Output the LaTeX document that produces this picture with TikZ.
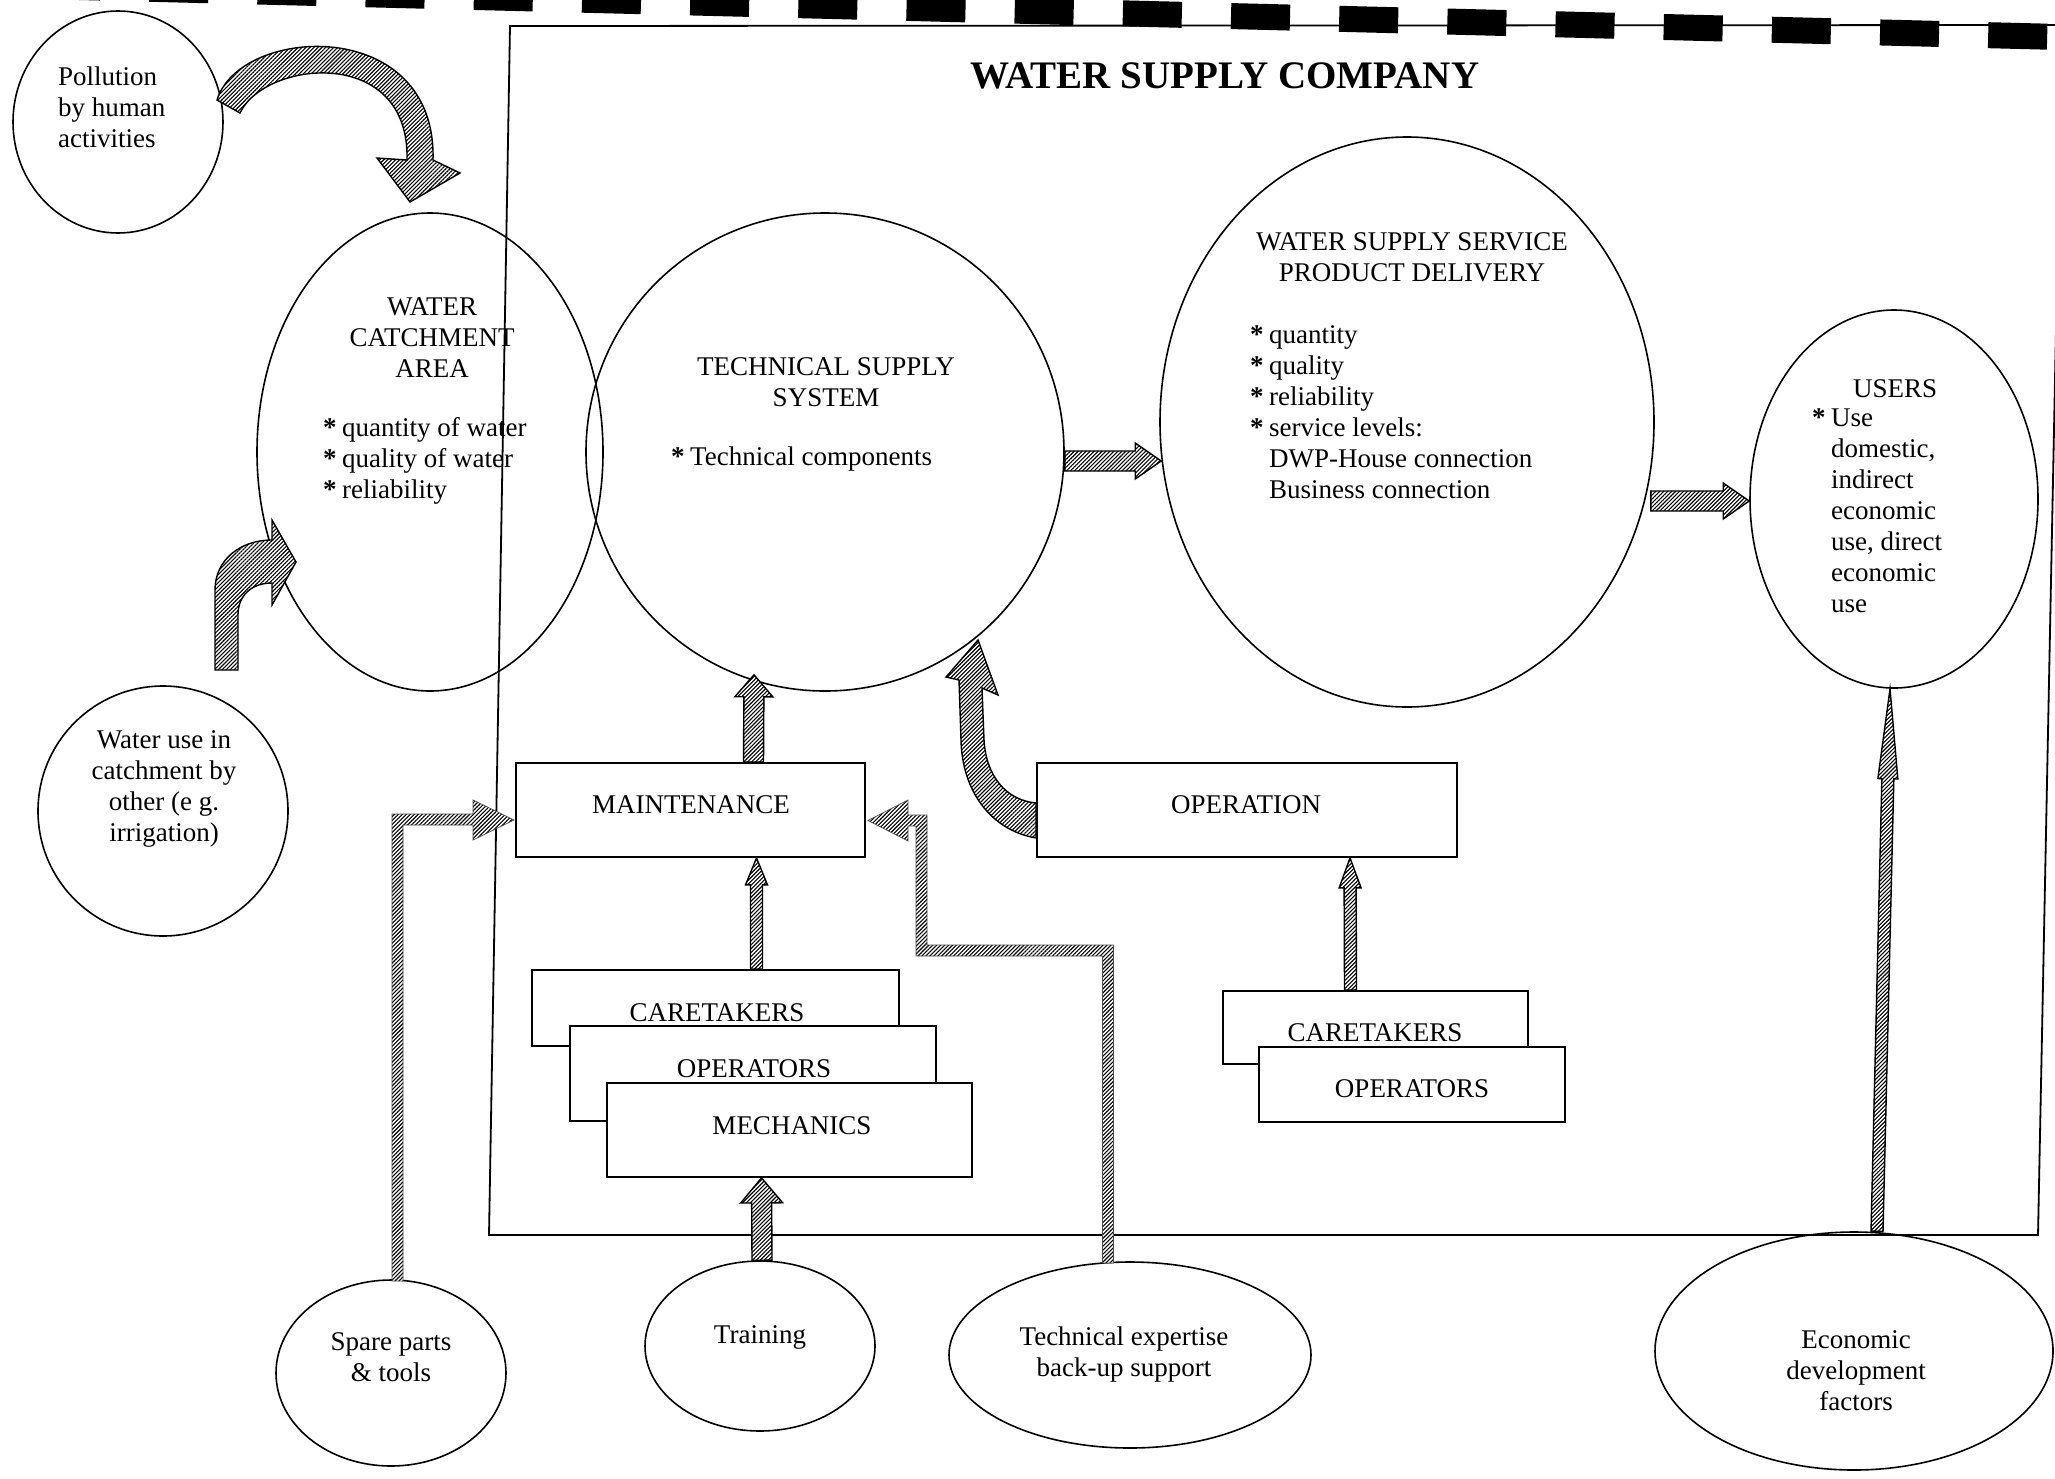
\documentclass[tikz,border=0pt]{standalone}
\usepackage{fontspec}
\setmainfont{Liberation Serif}
\usetikzlibrary{calc,shapes.geometric,patterns.meta}

% bullet and matching indent for the lists
\newcommand{\bul}{\makebox[19pt][l]{\textbf{*}}}
\newcommand{\ind}{\hspace*{19pt}}

% straight block arrow: [style]{from}{to}{shaft half width}{head half width}{head length}
\newcommand{\blockarrow}[6][]{%
  \coordinate (bah) at ($(#3)!#6!(#2)$);
  \draw[arrowbody,#1] ($(#2)!#4!90:(#3)$) -- ($(bah)!#4!90:(#3)$)
     -- ($(bah)!#5!90:(#3)$) -- (#3) -- ($(bah)!#5!-90:(#3)$)
     -- ($(bah)!#4!-90:(#3)$) -- ($(#2)!#4!-90:(#3)$) -- cycle;}

\tikzset{
  txt/.style={font=\fontsize{27}{31}\selectfont, inner sep=0pt},
  bubble/.style={ellipse, draw, line width=1.6pt, inner sep=0pt},
  box/.style={rectangle, draw, line width=1.8pt, fill=white, inner sep=0pt},
  hatch/.style={pattern={Lines[angle=45,distance=2.8pt,line width=1.1pt]}, pattern color=black},
  arrowbody/.style={hatch, draw=black, line width=1.4pt, line join=miter, preaction={fill=white}},
  band/.style={hatch, draw=black!70, line width=0.7pt, preaction={fill=white}},
}

\begin{document}
\begin{tikzpicture}[x=1pt,y=-1pt]
\useasboundingbox (0,0) rectangle (2055,1478);
\clip (0,0) rectangle (2055,1478);

% dashed band along the top edge
\draw[line width=26pt, dash pattern=on 59pt off 49.2pt, dash phase=67pt] (0,-15) -- (2080,37.5);

% company frame
\draw[line width=1.8pt] (2070,25) -- (510,26) -- (489,1235) -- (2038,1235) -- (2062,26);
\node[font=\bfseries\fontsize{39}{44}\selectfont, inner sep=0pt] (title) at (1225,76) {WATER SUPPLY COMPANY};

% ellipses
\node[bubble, minimum width=210pt, minimum height=222pt] (poll) at (118,122) {};
\node[bubble, minimum width=346pt, minimum height=478pt] (catch) at (430,452) {};
\node[bubble, minimum width=478pt, minimum height=478pt] (tech) at (825,452) {};
\node[bubble, minimum width=494pt, minimum height=570pt] (serv) at (1407,422) {};
\node[bubble, minimum width=288pt, minimum height=378pt] (users) at (1894,499) {};
\node[bubble, minimum width=250pt, minimum height=250pt] (wateruse) at (163,811) {};
\node[bubble, minimum width=230pt, minimum height=186pt] (spare) at (391,1373) {};
\node[bubble, minimum width=230pt, minimum height=170pt] (train) at (760,1346) {};
\node[bubble, minimum width=362pt, minimum height=186pt] (expert) at (1130,1355) {};
\node[bubble, minimum width=398pt, minimum height=238pt] (econ) at (1854,1351) {};

% ellipse texts
\node[txt, anchor=west, align=left] (polltxt) at (58,107) {Pollution\\by human\\activities};
\node[txt, align=center] (catchtitle) at (432,338) {WATER\\CATCHMENT\\AREA};
\node[txt, anchor=west, align=left] (catchlist) at (323,461) {\bul quantity of water\\\bul quality of water\\\bul reliability};
\node[txt, align=center] (techtitle) at (826,382) {TECHNICAL SUPPLY\\SYSTEM};
\node[txt, anchor=west] (techlist) at (671,459) {\bul Technical components};
\node[txt, align=center] (servtitle) at (1412,257) {WATER SUPPLY SERVICE\\PRODUCT DELIVERY};
\node[txt, anchor=west, align=left] (servlist) at (1250,412) {\bul quantity\\\bul quality\\\bul reliability\\\bul service levels:\\\ind DWP-House connection\\\ind Business connection};
\node[txt] (userstitle) at (1895,389) {USERS};
\node[txt, anchor=west, align=left] (userslist) at (1812,511) {\bul Use\\\ind domestic,\\\ind indirect\\\ind economic\\\ind use, direct\\\ind economic\\\ind use};
\node[txt, align=center] (wutxt) at (164,789) {Water use in\\catchment by\\other (e g.\\irrigation)};
\node[txt, align=center] (sparetxt) at (391,1357) {Spare parts\\\& tools};
\node[txt] (traintxt) at (760,1337) {Training};
\node[txt, align=center] (experttxt) at (1124,1354) {Technical expertise\\back-up support};
\node[txt, align=center] (econtxt) at (1856,1371) {Economic\\development\\factors};

% boxes
\node[box, minimum width=349pt, minimum height=94pt] (maint) at (690.5,810) {};
\node[txt] (mainttxt) at (691,805) {MAINTENANCE};
\node[box, minimum width=420pt, minimum height=94pt] (oper) at (1247,810) {};
\node[txt] (opertxt) at (1246,805) {OPERATION};

\node[box, minimum width=367pt, minimum height=76pt] (lcare) at (715.5,1008) {};
\node[txt] (lcaretxt) at (717,1013) {CARETAKERS};
\node[box, minimum width=366pt, minimum height=95pt] (lop) at (753,1073.5) {};
\node[txt] (loptxt) at (754,1069) {OPERATORS};
\node[box, minimum width=365pt, minimum height=94pt] (lmech) at (789.5,1130) {};
\node[txt] (lmechtxt) at (792,1126) {MECHANICS};

\node[box, minimum width=305pt, minimum height=73pt] (rcare) at (1375.5,1027.5) {};
\node[txt] (rcaretxt) at (1375,1033) {CARETAKERS};
\node[box, minimum width=306pt, minimum height=75pt] (rop) at (1412,1084.5) {};
\node[txt] (roptxt) at (1412,1089) {OPERATORS};

% straight block arrows
\coordinate (ts1) at ($(tech.east)+(0,9)$);
\coordinate (ts2) at ($(serv.west)+(2,39)$);
\blockarrow{ts1}{ts2}{10pt}{18pt}{26pt}
\coordinate (su1) at ($(serv.east)+(-4,79)$);
\coordinate (su2) at ($(users.west)+(0,2)$);
\blockarrow{su1}{su2}{10pt}{18pt}{26pt}
\coordinate (mt1) at ($(maint.north)+(63,0)$);
\coordinate (mt2) at ($(tech.south)+(-71,-17)$);
\blockarrow{mt1}{mt2}{10pt}{19pt}{22pt}
\coordinate (cm1) at ($(lcare.north)+(41,0)$);
\coordinate (cm2) at ($(maint.south)+(66,0)$);
\blockarrow{cm1}{cm2}{6pt}{11pt}{27pt}
\coordinate (tm1) at ($(train.north)+(2,0)$);
\coordinate (tm2) at ($(lmech.south)+(-28,0)$);
\blockarrow{tm1}{tm2}{10pt}{21pt}{25pt}
\coordinate (co1) at ($(rcare.north)+(-25,0)$);
\coordinate (co2) at ($(oper.south)+(103,0)$);
\blockarrow{co1}{co2}{6pt}{11pt}{30pt}
\coordinate (eu1) at ($(econ.north)+(23,0)$);
\coordinate (eu2) at ($(users.south)+(-4,0)$);
\blockarrow{eu1}{eu2}{6pt}{10pt}{90pt}

% pollution -> catchment, curved
\draw[arrowbody] (217,100) .. controls (240,25) and (437,15) .. (433,160)
  -- (460,173) -- (410,202) -- (377,158) -- (407,160)
  .. controls (410,45) and (265,60) .. (240,113) -- cycle;

% water use -> catchment, bent
\draw[arrowbody] (215,670) -- (215,590) .. controls (215,560) and (240,540) .. (272,540)
  -- (272,520) -- (296,562) -- (272,605) -- (272,583)
  .. controls (252,583) and (238,595) .. (238,615) -- (238,670) -- cycle;

% operation -> technical supply system, curved
\draw[arrowbody] (1036,838) .. controls (990,830) and (962,790) .. (961,740)
  -- (959,680) -- (946,677) -- (978,640) -- (998,695) -- (982,688)
  -- (984,740) .. controls (986,775) and (1005,800) .. (1036,803) -- cycle;

% spare parts -> maintenance
\draw[band] (392,1281) -- (392,814) -- (473,814) -- (473,800) -- (514,820)
  -- (473,840) -- (473,825) -- (403,825) -- (403,1281) -- cycle;

% technical expertise -> maintenance
\draw[band] (1113.5,1263) -- (1113.5,945) -- (927,945) -- (927,815) -- (908,815)
  -- (908,800) -- (868,820.5) -- (908,841) -- (908,826) -- (916,826)
  -- (916,956) -- (1102.5,956) -- (1102.5,1263) -- cycle;
\end{tikzpicture}
\end{document}
